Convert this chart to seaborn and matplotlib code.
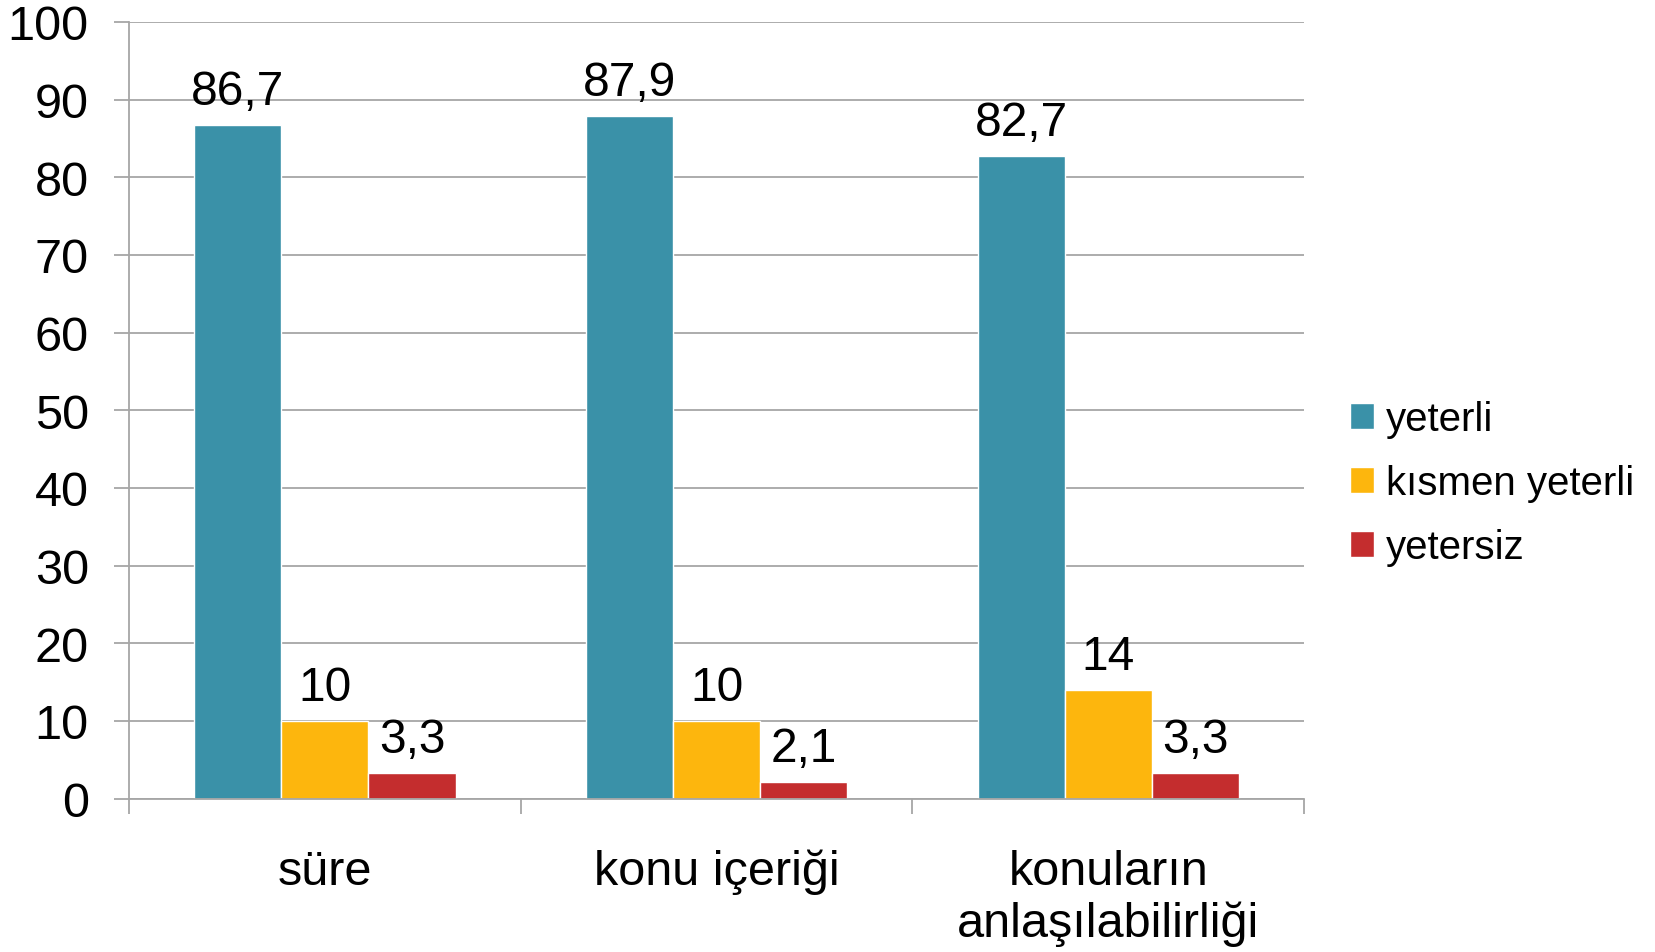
import numpy as np
import pandas as pd
import matplotlib
matplotlib.use("Agg")
import matplotlib.pyplot as plt
import seaborn as sns
from matplotlib.ticker import FixedLocator

# ==================================================
# DATA
# ==================================================

categories = ["süre", "konu içeriği", "konuların\nanlaşılabilirliği"]
series = ["yeterli", "kısmen yeterli", "yetersiz"]
yeterli = [86.7, 87.9, 82.7]
kismen_yeterli = [10, 10, 14]
yetersiz = [3.3, 2.1, 3.3]

colors = ["#3A91A8", "#FDB60D", "#C42D2E"]

df = pd.DataFrame({
    "kategori": categories * 3,
    "seri": [s for s in series for _ in categories],
    "deger": yeterli + kismen_yeterli + yetersiz,
})

# ==================================================
# PLOT
# ==================================================

sns.set_style("white")
plt.rcParams["font.family"] = ["Liberation Sans", "DejaVu Sans"]

fig = plt.figure(figsize=(16.55, 9.53), dpi=100)
ax = fig.add_axes([0.078, 0.161, 0.710, 0.815])

sns.barplot(
    data=df,
    x="kategori",
    y="deger",
    hue="seri",
    palette=colors,
    width=0.667,
    saturation=1,
    ax=ax,
)

for cont in ax.containers:
    labels = [f"{v:g}".replace(".", ",") for v in cont.datavalues]
    ax.bar_label(cont, labels=labels, fontsize=34.5, padding=8,
                 color="black")

ax.set_ylim(0, 100)
ax.set_xlim(-0.5, 2.5)
ax.set_yticks(np.arange(0, 101, 10))
ax.yaxis.grid(True, color="#A6A6A6", linewidth=1.3)
ax.set_axisbelow(True)

ax.set_xlabel("")
ax.set_ylabel("")

ax.tick_params(axis="y", labelsize=35, length=11, width=1.3,
               color="#A6A6A6", left=True, pad=18, labelcolor="black")
ax.tick_params(axis="x", which="major", labelsize=35, length=0, pad=36,
               labelcolor="black")
ax.xaxis.set_minor_locator(FixedLocator([-0.5, 0.5, 1.5, 2.5]))
ax.tick_params(axis="x", which="minor", length=11, width=1.3,
               color="#A6A6A6", bottom=True)

sns.despine(ax=ax, top=True, right=True)
for side in ["left", "bottom"]:
    ax.spines[side].set_color("#A6A6A6")
    ax.spines[side].set_linewidth(1.3)

leg = ax.legend(
    loc="center left",
    bbox_to_anchor=(1.008, 0.406),
    frameon=False,
    fontsize=29,
    handlelength=0.6,
    handleheight=0.6,
    handletextpad=0.3,
    labelspacing=0.65,
)
for t in leg.get_texts():
    t.set_color("black")

fig.savefig("out.png", dpi=100)
plt.close()
